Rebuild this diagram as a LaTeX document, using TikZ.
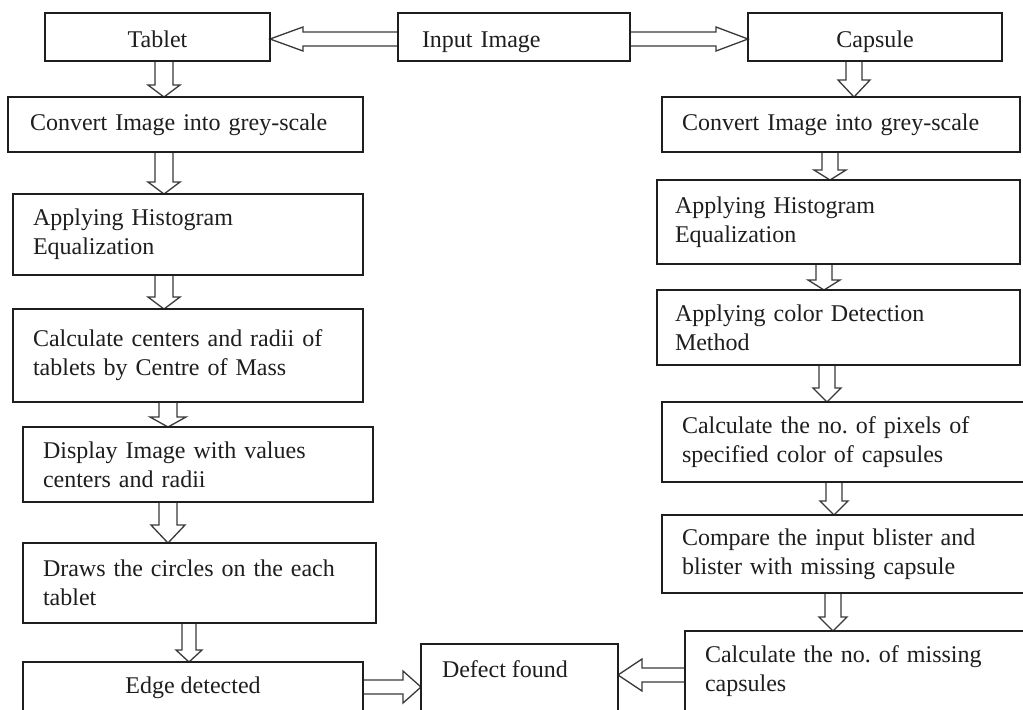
\documentclass[tikz,border=0pt]{standalone}
\usepackage{fontspec}
\setmainfont{Liberation Serif}
\usetikzlibrary{calc}
\definecolor{ink}{HTML}{1E1E1E}
\definecolor{arrowink}{HTML}{3A3A3A}
\pgfdeclarelayer{back}
\pgfdeclarelayer{arrows}
\pgfsetlayers{back,arrows,main}
% #1 from, #2 to, #3 shaft half-width, #4 head half-width, #5 head length
\newcommand\blockarrow[5]{%
  \coordinate (ba-s) at (#1);
  \coordinate (ba-t) at (#2);
  \coordinate (ba-h) at ($(ba-t)!#5!(ba-s)$);
  \begin{pgfonlayer}{arrows}
  \draw[blockarrowline] ($(ba-s)!#3!90:(ba-t)$) -- ($(ba-h)!#3!90:(ba-t)$) -- ($(ba-h)!#4!90:(ba-t)$) -- (ba-t) -- ($(ba-h)!#4!-90:(ba-t)$) -- ($(ba-h)!#3!-90:(ba-t)$) -- ($(ba-s)!#3!-90:(ba-t)$);
  \end{pgfonlayer}
}
\begin{document}
\frenchspacing
\begin{tikzpicture}[x=0.5pt,y=-0.5pt,
  box/.style={draw=ink, line width=0.85pt, rectangle, outer sep=0pt, inner xsep=10pt, inner ysep=0pt,
    align=left, font=\fontsize{12pt}{14.5pt}\selectfont\frenchspacing, text=ink},
  cbox/.style={box, align=center},
  toprow/.style={text height=12pt, text depth=2pt},
  txt/.style={inner sep=0pt, outer sep=0pt, font=\fontsize{12pt}{14.5pt}\selectfont, text=ink},
  blockarrowline/.style={draw=arrowink, line width=0.65pt, fill=white, line join=miter}]
\useasboundingbox (0,0) rectangle (1023,709);
\begin{pgfonlayer}{back}
\fill[white] (0,0) rectangle (1023,709);
\end{pgfonlayer}
\clip (0,0) rectangle (1023,709);

% top row
\node[cbox, toprow, minimum width=112.5pt, minimum height=24pt] (tab) at (157.5,37) {Tablet};
\node[box, toprow, inner xsep=12pt, minimum width=116pt, minimum height=24pt, text width=92pt] (in) at (514,37) {Input Image};
\node[cbox, toprow, minimum width=127pt, minimum height=24pt] (cap) at (875,37) {Capsule};

% left column
\node[box, inner xsep=11pt, minimum width=177.5pt, minimum height=27.5pt, text width=155.5pt] (lc1) at (185.5,124.5) {Convert Image into grey-scale};
\node[box, minimum width=175pt, minimum height=40.5pt, text width=155pt] (lc2) at (188,234.5) {Applying Histogram\\Equalization};
\node[box, minimum width=175pt, minimum height=46.5pt, text width=155pt] (lc3) at (188,355.5) {Calculate centers and radii of\\tablets by Centre of Mass};
\node[box, minimum width=175pt, minimum height=37.5pt, text width=155pt] (lc4) at (198,464.5) {Display Image with values\\centers and radii};
\node[box, minimum width=176.5pt, minimum height=40pt, text width=156.5pt] (lc5) at (199.5,583) {Draws the circles on the each\\tablet};
\node[box, minimum width=170pt, minimum height=34pt] (lc6) at (193,696) {};
\node[txt, anchor=base] (lc6t) at ($(lc6.north)+(0,31)$) {Edge detected};

% defect
\node[box, minimum width=98.5pt, minimum height=43pt] (df) at (519.5,687) {};
\node[txt, anchor=base west] (dft) at ($(df.north west)+(21,33)$) {Defect found};

% right column
\node[box, minimum width=179pt, minimum height=27.5pt, text width=159pt] (rc1) at (841,124.5) {Convert Image into grey-scale};
\node[box, inner xsep=9pt, minimum width=181.5pt, minimum height=42pt, text width=163.5pt] (rc2) at (838.5,222) {Applying Histogram\\Equalization};
\node[box, inner xsep=9pt, minimum width=181.5pt, minimum height=37.5pt, text width=163.5pt] (rc3) at (838.5,327.5) {Applying color Detection\\Method};
\node[box, minimum width=189pt, minimum height=40pt, text width=169pt] (rc4) at (851,442) {Calculate the no. of pixels of\\specified color of capsules};
\node[box, minimum width=189pt, minimum height=39pt, text width=169pt] (rc5) at (851,554) {Compare the input blister and\\blister with missing capsule};
\node[box, minimum width=177.5pt, minimum height=40.5pt, text width=157.5pt] (rc6) at (862.5,671.5) {Calculate the no. of missing\\capsules};

% arrow guide coordinates
\coordinate (xa) at (164,0);
\coordinate (xb) at (168,0);
\coordinate (xc) at (189,0);
\coordinate (xr1) at (854,0);
\coordinate (xr2) at (830,0);
\coordinate (xr3) at (824,0);
\coordinate (xr4) at (827,0);
\coordinate (xr5) at (834,0);
\coordinate (xr6) at (833,0);
\coordinate (yt) at (0,39);
\coordinate (yb1) at (0,687);
\coordinate (yb2) at (0,675);

% arrows
\blockarrow{in.west |- yt}{tab.east |- yt}{3.5pt}{6pt}{16.5pt}
\blockarrow{in.east |- yt}{cap.west |- yt}{3.5pt}{6pt}{16pt}

\blockarrow{tab.south -| xa}{lc1.north -| xa}{4.5pt}{8pt}{6pt}
\blockarrow{lc1.south -| xa}{lc2.north -| xa}{4.5pt}{8pt}{6pt}
\blockarrow{lc2.south -| xa}{lc3.north -| xa}{4.5pt}{8pt}{6pt}
\blockarrow{lc3.south -| xb}{lc4.north -| xb}{4.5pt}{9pt}{5pt}
\blockarrow{lc4.south -| xb}{lc5.north -| xb}{4.5pt}{8.5pt}{9pt}
\blockarrow{lc5.south -| xc}{lc6.north -| xc}{3.5pt}{6.5pt}{6pt}

\blockarrow{cap.south -| xr1}{rc1.north -| xr1}{4pt}{8pt}{8.5pt}
\blockarrow{rc1.south -| xr2}{rc2.north -| xr2}{4pt}{8pt}{5pt}
\blockarrow{rc2.south -| xr3}{rc3.north -| xr3}{4pt}{8pt}{5pt}
\blockarrow{rc3.south -| xr4}{rc4.north -| xr4}{4pt}{7pt}{7pt}
\blockarrow{rc4.south -| xr5}{rc5.north -| xr5}{4pt}{7pt}{7pt}
\blockarrow{rc5.south -| xr6}{rc6.north -| xr6}{4pt}{7pt}{7pt}

\blockarrow{lc6.east |- yb1}{df.west |- yb1}{3.5pt}{8pt}{9pt}
\blockarrow{rc6.west |- yb2}{df.east |- yb2}{3.5pt}{8pt}{12pt}
\end{tikzpicture}
\end{document}
